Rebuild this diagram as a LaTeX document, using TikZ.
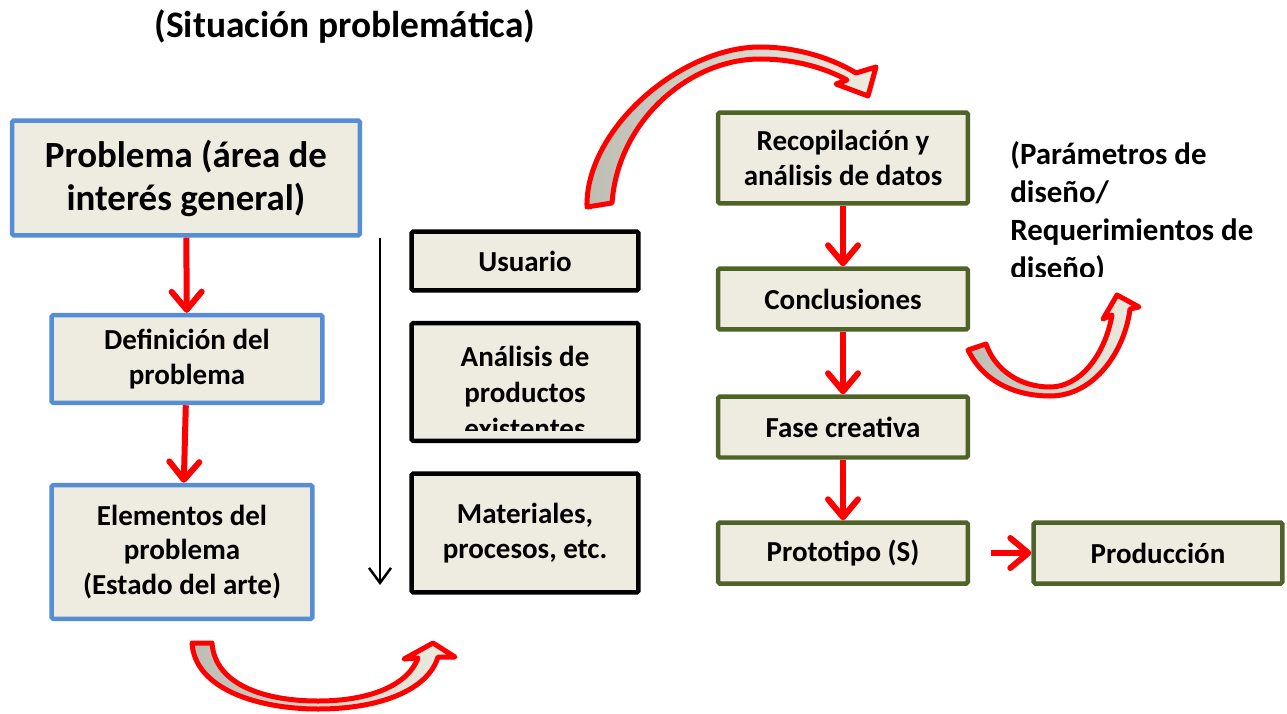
\documentclass[tikz,border=0pt]{standalone}
\usepackage{fontspec}
\setmainfont{Carlito}
\usetikzlibrary{arrows.meta}
\definecolor{beige}{HTML}{EEECE1}
\definecolor{bluebd}{HTML}{558ED5}
\definecolor{greenbd}{HTML}{4F6228}
\definecolor{tailgray}{HTML}{BDBDB3}
\tikzset{
  box/.style={draw, fill=beige, line width=0.09cm, rounded corners=1pt, align=center, inner sep=0pt,
    font=\bfseries\fontsize{16.5}{19.5}\selectfont},
  bluebox/.style={box, draw=bluebd},
  blackbox/.style={box, draw=black},
  greenbox/.style={box, draw=greenbd},
  redarrow/.style={red, line width=0.12cm, -{Straight Barb[length=0.36cm,width=0.6cm,round]}},
  blockarrow/.style={draw=red, line width=0.1cm, line join=round, left color=tailgray, right color=beige}
}
\begin{document}
\begin{tikzpicture}[x=0.02cm,y=-0.02cm]
\useasboundingbox (0,0) rectangle (1287,713);
\node [font=\bfseries\fontsize{21.3}{24.5}\selectfont] (title) at (345,27) {(Situación problemática)};
% left column
\node [bluebox, minimum width=6.96cm, minimum height=2.3cm, font=\bfseries\fontsize{21}{24.5}\selectfont] (A) at (186,178) {Problema (área de\\interés general)};
\node [bluebox, minimum width=5.42cm, minimum height=1.76cm] (B) at (187,359) {Definición del\\problema};
\node [bluebox, minimum width=5.22cm, minimum height=2.68cm] (C) at (182,552) {Elementos del\\problema\\(Estado del arte)};
% middle column
\coordinate (top) at (380,238);
\coordinate (bot) at (380,585);
\draw [line width=0.05cm, -{Straight Barb[length=0.3cm,width=0.44cm]}] (top) -- (bot);
\node [blackbox, minimum width=4.54cm, minimum height=1.18cm] (D) at (525,261) {Usuario};
\node [blackbox, minimum width=4.54cm, minimum height=2.36cm] (E) at (525,382) {};
\begin{scope}
  \clip (412,323) rectangle (640,430);
  \node [font=\bfseries\fontsize{16.5}{20.5}\selectfont, align=center] (Etxt) at (525,392) {Análisis de\\productos\\existentes};
\end{scope}
\node [blackbox, minimum width=4.54cm, minimum height=2.38cm] (F) at (525,533) {Materiales,\\procesos, etc.};
% right column
\node [greenbox, minimum width=5cm, minimum height=1.82cm] (G) at (843,158) {Recopilación y\\análisis de datos};
\node [greenbox, minimum width=5cm, minimum height=1.22cm] (H) at (843,299) {Conclusiones};
\node [greenbox, minimum width=5cm, minimum height=1.22cm] (I) at (843,427) {Fase creativa};
\node [greenbox, minimum width=5cm, minimum height=1.22cm] (J) at (843,553) {Prototipo (S)};
\node [greenbox, minimum width=4.98cm, minimum height=1.22cm] (K) at (1158,553) {Producción};
\begin{scope}
  \clip (1000,130) rectangle (1287,276);
  \node [font=\bfseries\fontsize{17.6}{21.6}\selectfont, align=left, anchor=north west, inner sep=0pt] (param) at (1010,141) {(Parámetros de\\diseño/\\Requerimientos de\\diseño)};
\end{scope}
\foreach \a/\b in {A/B,B/C,G/H,H/I,I/J}{
  \draw [redarrow] (\a) -- (\b);
}
\draw [redarrow, shorten <=0.42cm] (J) -- (K);
% curved block arrows
\filldraw [blockarrow] (587,207) .. controls (585,130) and (680,47) .. (760,47)
  .. controls (800,47) and (835,60) .. (856,73) -- (876,67) -- (868,96) -- (836,84) -- (847,80)
  .. controls (825,68) and (795,59) .. (760,59) .. controls (690,59) and (618,120) .. (612,203) -- cycle;
\filldraw [blockarrow] (968,350) .. controls (985,385) and (1020,396) .. (1050,396)
  .. controls (1095,396) and (1125,350) .. (1130,309) -- (1139,307) -- (1117,295) -- (1103,319) -- (1112,315)
  .. controls (1105,355) and (1080,387) .. (1050,387) .. controls (1020,387) and (995,370) .. (986,344) -- cycle;
\filldraw [blockarrow] (192,643) .. controls (195,690) and (260,709) .. (318,709)
  .. controls (380,709) and (428,690) .. (438,657) -- (455,657) -- (433,643) -- (404,659) -- (418,658)
  .. controls (408,685) and (370,701) .. (318,701) .. controls (265,701) and (215,685) .. (212,643) -- cycle;
\end{tikzpicture}
\end{document}
